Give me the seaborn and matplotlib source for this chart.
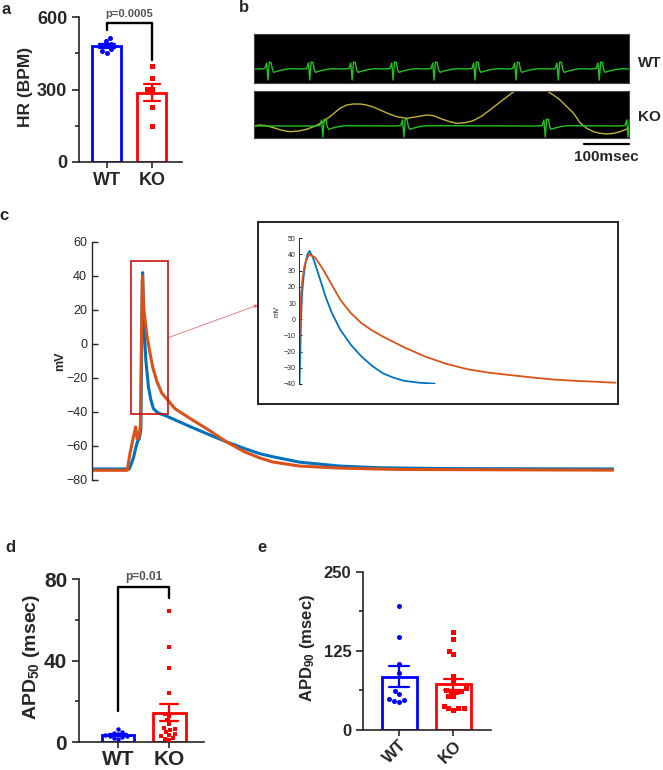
import pandas as pd
import seaborn as sns
import matplotlib.pyplot as plt
from matplotlib.patches import Rectangle
from matplotlib.ticker import MultipleLocator

W, H = 663, 770
BLUE, RED = "#0000ff", "#ff0000"
PAL = {"WT": BLUE, "KO": RED}
GROUPS = ["WT", "KO"]
AP_BLUE, AP_ORANGE = "#0072bd", "#d95319"
ECG_GREEN, RESP_YELLOW = "#22c322", "#c2b13c"

# a: heart rate (BPM)
hr_wt = [515, 500, 490, 478, 466, 458, 452]
hr_ko = [397, 346, 301, 301, 229, 149]

# b: surface ECG (time in ms, amplitude in screen units)
ecg_beats_wt = [31, 124, 218, 309, 400, 491, 582, 676, 767]
ecg_beats_ko = [153, 333, 647, 831]
beat_dt = [-18, -7, -3, 0, 3, 7, 10, 13, 22, 36, 50]
beat_amp = [0, 0.5, 6, -11, 7, 6.5, -1, -3.3, -2, -0.5, 0.3]
resp_t = [0, 13, 28, 43, 62, 80, 99, 117, 136, 154, 173, 191, 206, 221, 236, 250, 265,
          280, 299, 317, 339, 362, 384, 399, 413, 432, 450, 469, 487, 506, 524, 543,
          562, 580, 599, 615, 632, 650, 665, 680, 695, 710, 724, 739, 754, 769, 784,
          799, 813, 832]
resp_v = [0, 1, 0.3, -1.7, -4.3, -5.7, -5, -3.3, 0, 4.3, 11, 17.7, 21, 22, 22, 21, 19,
          16, 12.3, 9.3, 7.7, 9.3, 11, 10.3, 7.7, 4.7, 2.7, 3.3, 5.3, 10, 16, 22.7,
          29.3, 35.3, 42.7, 46.7, 42.7, 35.3, 31, 26, 19.3, 12.7, 3.3, -2.3, -5.7, -7.3, -8,
          -7.3, -5.7, -2.3]
ECG_END = 833

# c: simulated action potentials (ms, mV)
ap_t_wt = [0, 74.6, 78, 83, 87, 91, 95, 98, 100, 101.4, 104, 108, 113, 118, 123,
           132, 150, 196, 236, 269, 306, 336, 362, 416, 496, 576, 716, 1044]
ap_v_wt = [-73.5, -73.5, -71, -67, -62, -57.5, -55.5, -50, 10, 42, 12, -10, -25, -33, -38,
           -40.5, -42.5, -48.5, -53.5, -57.5, -61.5, -64.5, -66.3, -69.5, -71.8, -72.8, -73.3, -73.5]
ap_t_ko = [0, 70.6, 76, 82, 87.4, 90.6, 94, 97, 98.5, 100.6, 101.2, 104, 110, 116, 122,
           130, 140, 152, 166, 196, 236, 269, 306, 336, 362, 416, 496, 616, 1044]
ap_v_ko = [-74.3, -74.3, -64.5, -56, -48.8, -56, -54.5, -48, -10, 38, 40, 20, 5, -5, -14,
           -22, -29, -33, -38, -43.7, -51, -57.5, -63.5, -67, -69.4, -71.8, -73, -73.8, -74.2]
# inset (zoom of the peak)
in_t_wt = [0, 0.8, 1.5, 2.5, 4, 6, 8, 10, 13.4, 17.6, 21.9, 26.1, 32.5, 41, 51.6,
           62.2, 72.9, 83.5, 94.1, 104.7, 119.6, 135.3]
in_v_wt = [-40, -20, 0, 15, 26, 35, 40, 42.2, 38.2, 30.4, 22.2, 13.9, 3.7, -6.6, -15.9,
           -23.1, -28.9, -33.4, -36.1, -38, -39.2, -39.8]
in_t_ko = [-1, -0.3, 0.5, 1.5, 3, 5, 7.5, 10, 15.5, 19.7, 24, 32.5, 41, 51.6, 62.2, 72.9,
           83.5, 104.7, 126, 147.2, 168.5, 189.7, 211, 232.2, 253.5, 274.7, 296, 316.4]
in_v_ko = [-38, -20, 0, 15, 25, 33, 37.5, 40.1, 38.2, 34.5, 30.4, 21.1, 11.9, 3.7, -2.5, -7,
           -10.7, -17.3, -23.1, -27.6, -30.9, -33, -34.5, -35.9, -37.2, -38, -38.6, -39.2]
zoom_t = [78, 152.6]
zoom_v = [-41.2, 48.8]

# d, e: action potential durations (msec)
apd50_wt = [6.5, 5, 4.5, 4, 3.5, 3, 3, 2.5, 2, 1.5]
apd50_ko = [64.5, 46.5, 36.5, 24, 14, 13, 11, 9, 7, 6.5, 6, 5, 4, 3.5, 3, 2, 1.5, 1]
apd90_wt = [196, 147, 104, 90, 61, 57, 49, 47, 46, 44]
apd90_ko = [154, 143, 124, 120, 85, 76, 66, 63, 61, 60, 62, 54, 53, 38, 35, 35, 32, 34]

sns.set_style("ticks")
plt.rcParams["font.family"] = ["Liberation Sans", "DejaVu Sans"]
plt.rcParams["mathtext.fontset"] = "custom"
plt.rcParams["mathtext.rm"] = "Liberation Sans:bold"
plt.rcParams["mathtext.it"] = "Liberation Sans:bold"
plt.rcParams["mathtext.bf"] = "Liberation Sans:bold"

fig = plt.figure(figsize=(W / 100, H / 100), dpi=100)


def add_ax(x0, y0, x1, y1):
    return fig.add_axes([x0 / W, 1 - y1 / H, (x1 - x0) / W, (y1 - y0) / H])


def panel_label(x, y, s):
    fig.text(x / W, 1 - y / H, s, fontsize=12, fontweight="bold", ha="center", va="center")


def bar_panel(ax, wt, ko, top, major, dot, width, xlim, fs, ylabel, fs_lab, lab_x, lab_y, xpad=3.5):
    df = pd.DataFrame({"group": ["WT"] * len(wt) + ["KO"] * len(ko), "value": wt + ko})
    sns.barplot(data=df, x="group", y="value", hue="group", order=GROUPS, hue_order=GROUPS,
                palette=PAL, fill=False, width=width, errorbar="se", capsize=0.36,
                linewidth=2, err_kws={"linewidth": 1.6}, legend=False, ax=ax)
    for g, m in zip(GROUPS, ["o", "s"]):
        sns.swarmplot(data=df[df["group"] == g], x="group", y="value", order=GROUPS,
                      color=PAL[g], marker=m, size=dot, linewidth=0, ax=ax, zorder=3)
    ax.set_xlim(*xlim)
    ax.set_ylim(0, top)
    ax.yaxis.set_major_locator(MultipleLocator(major))
    ax.yaxis.set_minor_locator(MultipleLocator(major / 2))
    sns.despine(ax=ax)
    for s in ["left", "bottom"]:
        ax.spines[s].set_linewidth(1.2)
    ax.tick_params(which="major", length=5, width=1.2, labelsize=fs)
    ax.tick_params(which="minor", length=3, width=1.2)
    ax.tick_params(axis="x", which="minor", bottom=False)
    ax.tick_params(axis="x", length=4, pad=xpad)
    for lab in ax.get_xticklabels() + ax.get_yticklabels():
        lab.set_fontweight("bold")
    ax.set_xlabel("")
    ax.set_ylabel(ylabel, fontsize=fs_lab, fontweight="bold")
    ax.yaxis.set_label_coords(lab_x, lab_y)


# ---- a ----
ax_a = add_ax(79, 17, 182, 162)
bar_panel(ax_a, hr_wt, hr_ko, 600, 300, 3.6, 0.64, (-0.62, 1.67), 13, "HR (BPM)", 12.5, -0.45, 0.52)
ax_a.plot([0, 0, 1, 1], [546, 576, 576, 422], color="k", lw=1.7, clip_on=False)
ax_a.text(0.5, 612, "p=0.0005", ha="center", va="center", fontsize=8, fontweight="bold", color="#555555")

# ---- b ----
def ecg_trace(beats):
    pts = [(0.0, 0.0), (ECG_END, 0.0)]
    for b in beats:
        pts += [(b + d, a) for d, a in zip(beat_dt, beat_amp)]
    pts.sort()
    return [p[0] for p in pts], [p[1] for p in pts]


ax_bw = add_ax(254, 34, 629, 83)
ax_bk = add_ax(254, 91, 629, 138)
t, v = ecg_trace(ecg_beats_wt)
sns.lineplot(x=t, y=v, color=ECG_GREEN, lw=1.0, estimator=None, sort=False, ax=ax_bw)
ax_bw.set_ylim(-14, 35)
sns.lineplot(x=resp_t, y=resp_v, color=RESP_YELLOW, lw=1.0, estimator=None, sort=False, ax=ax_bk)
t, v = ecg_trace(ecg_beats_ko)
sns.lineplot(x=t, y=v, color=ECG_GREEN, lw=1.0, estimator=None, sort=False, ax=ax_bk)
ax_bk.set_ylim(-12, 35)
for ax in (ax_bw, ax_bk):
    ax.set_facecolor("black")
    ax.set_xlim(0, ECG_END)
    ax.set_xticks([])
    ax.set_yticks([])
    for s in ax.spines.values():
        s.set_color("#444444")
        s.set_linewidth(0.8)
ax_bw.text(1.024, 0.41, "WT", transform=ax_bw.transAxes, fontsize=11, fontweight="bold", va="center")
ax_bk.text(1.024, 0.45, "KO", transform=ax_bk.transAxes, fontsize=11, fontweight="bold", va="center")
ax_bk.plot([ECG_END - 100, ECG_END], [-18, -18], color="k", lw=1.6, clip_on=False)
ax_bk.text(ECG_END - 50, -31, "100msec", ha="center", va="center", fontsize=11, fontweight="bold")

# ---- c ----
ax_c = add_ax(92, 242, 614, 480)
sns.lineplot(x=ap_t_wt, y=ap_v_wt, color=AP_BLUE, lw=2.2, estimator=None, sort=False, ax=ax_c)
sns.lineplot(x=ap_t_ko, y=ap_v_ko, color=AP_ORANGE, lw=2.2, estimator=None, sort=False, ax=ax_c)
ax_c.set_xlim(0, 1046)
ax_c.set_ylim(-80, 60)
ax_c.yaxis.set_major_locator(MultipleLocator(20))
for s in ["top", "right", "bottom"]:
    ax_c.spines[s].set_visible(False)
ax_c.spines["left"].set_color("#262626")
ax_c.spines["left"].set_linewidth(1.0)
ax_c.set_xticks([])
ax_c.tick_params(axis="y", direction="in", length=4, width=1, labelsize=9, colors="#262626")
ax_c.set_ylabel("mV", fontsize=9, fontweight="bold", color="#262626")
ax_c.yaxis.set_label_coords(-0.05, 0.5)
ax_c.add_patch(Rectangle((zoom_t[0], zoom_v[0]), zoom_t[1] - zoom_t[0], zoom_v[1] - zoom_v[0],
                         fill=False, edgecolor="#cc1111", lw=1.2, zorder=4))

ax_box = add_ax(258, 222, 618, 404)
ax_box.set_xticks([])
ax_box.set_yticks([])
for s in ax_box.spines.values():
    s.set_color("#222222")
    s.set_linewidth(1.4)
ax_in = add_ax(298.5, 238.3, 618, 384)
ax_in.patch.set_alpha(0)
sns.lineplot(x=in_t_wt, y=in_v_wt, color=AP_BLUE, lw=1.3, estimator=None, sort=False, ax=ax_in)
sns.lineplot(x=in_t_ko, y=in_v_ko, color=AP_ORANGE, lw=1.3, estimator=None, sort=False, ax=ax_in)
ax_in.set_xlim(-1, 319)
ax_in.set_ylim(-40, 50)
ax_in.yaxis.set_major_locator(MultipleLocator(10))
for s in ["top", "right", "bottom"]:
    ax_in.spines[s].set_visible(False)
ax_in.spines["left"].set_linewidth(0.7)
ax_in.set_xticks([])
ax_in.tick_params(axis="y", direction="in", length=2.5, width=0.7, labelsize=5, pad=2)
ax_in.set_ylabel("mV", fontsize=5.5)
ax_in.yaxis.set_label_coords(-0.055, 0.5)
ax_c.annotate("", xy=(0, 0.544), xycoords=ax_box.transAxes,
              xytext=(zoom_t[1], 3.7), textcoords="data",
              arrowprops=dict(arrowstyle="-|>", color="#e07070", lw=0.6, mutation_scale=5,
                              shrinkA=0, shrinkB=0))

# ---- d ----
ax_d = add_ax(79, 579.3, 204, 742)
bar_panel(ax_d, apd50_wt, apd50_ko, 80, 40, 3.2, 0.635, (-0.77, 1.68), 15,
          "APD$_{50}$ (msec)", 14, -0.3, 0.524, xpad=1.5)
ax_d.plot([0, 0, 1, 1], [15.2, 76, 76, 70.6], color="k", lw=1.7, clip_on=False)
ax_d.text(0.5, 81.3, "p=0.01", ha="center", va="center", fontsize=8.5, fontweight="bold", color="#555555")

# ---- e ----
ax_e = add_ax(363.3, 571.7, 490.7, 730)
bar_panel(ax_e, apd90_wt, apd90_ko, 250, 125, 3.6, 0.645, (-0.66, 1.685), 12,
          "APD$_{90}$ (msec)", 12, -0.36, 0.516, xpad=1.5)
for lab in ax_e.get_xticklabels():
    lab.set_rotation(45)
    lab.set_ha("right")
    lab.set_rotation_mode("anchor")

panel_label(6, 9, "a")
panel_label(244, 8, "b")
panel_label(4, 216, "c")
panel_label(10, 547, "d")
panel_label(262, 547, "e")

fig.savefig("out.png", dpi=100)
